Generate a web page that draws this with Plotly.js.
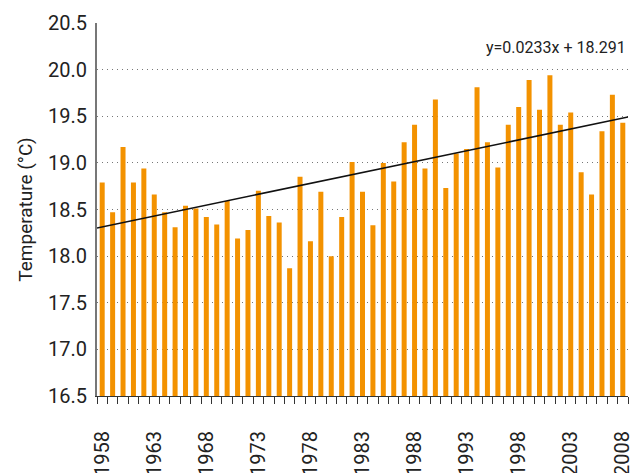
<!DOCTYPE html>
<html>
<head>
<meta charset="utf-8">
<script src="https://cdn.plot.ly/plotly-3.0.1.min.js"></script>
<style>html,body{margin:0;padding:0;background:#fff;}#chart{width:631px;height:473px;}</style>
</head>
<body>
<div id="chart"></div>
<script>
const years = [1958,1959,1960,1961,1962,1963,1964,1965,1966,1967,1968,1969,1970,1971,1972,1973,1974,1975,1976,1977,1978,1979,1980,1981,1982,1983,1984,1985,1986,1987,1988,1989,1990,1991,1992,1993,1994,1995,1996,1997,1998,1999,2000,2001,2002,2003,2004,2005,2006,2007,2008];
const temperatures = [18.79,18.47,19.17,18.79,18.94,18.66,18.47,18.31,18.54,18.51,18.42,18.34,18.59,18.19,18.28,18.70,18.43,18.36,17.87,18.85,18.16,18.69,18.00,18.42,19.01,18.69,18.33,19.00,18.80,19.22,19.41,18.94,19.68,18.73,19.10,19.15,19.81,19.22,18.95,19.41,19.60,19.89,19.57,19.94,19.41,19.54,18.90,18.66,19.34,19.73,19.43];
const tickYears = [1958,1963,1968,1973,1978,1983,1988,1993,1998,2003,2008];
const yTicks = [16.5,17.0,17.5,18.0,18.5,19.0,19.5,20.0,20.5];
const trendSlope = 0.0233;
const trendIntercept = 18.291;
const trendLabel = 'y=0.0233x + 18.291';

const firstYear = years[0];
const xLo = years[0] - 0.5, xHi = years[years.length-1] + 0.5;
const trendX = [xLo, xHi];
const trendY = trendX.map(x => trendSlope * (x - firstYear + 1) + trendIntercept);

const font = "'Liberation Sans Narrow', 'Roboto', sans-serif";

const data = [
  {type:'bar', x: years, y: temperatures, marker:{color:'#F39200'}, width:0.48, hoverinfo:'x+y'},
  {type:'scatter', mode:'lines', x: trendX, y: trendY, line:{color:'#111', width:1.5}, hoverinfo:'skip'}
];

const layout = {
  width:631, height:473,
  margin:{l:97, r:3, t:23, b:77},
  paper_bgcolor:'#fff', plot_bgcolor:'#fff',
  showlegend:false,
  font:{family:font, color:'#222'},
  xaxis:{
    type:'linear', range:[xLo, xHi],
    tickmode:'array', tickvals: tickYears, ticktext: tickYears.map(String),
    tickangle:-90, ticks:'', ticklabelstandoff:26, ticklabeloverflow:'allow',
    tickfont:{family:font, size:20, color:'#222'},
    showgrid:false, zeroline:false,
    showline:true, linecolor:'#333', linewidth:1,
    minor:{tick0: xLo, dtick:1, ticks:'outside', ticklen:7, tickcolor:'#333', tickwidth:1, showgrid:false}
  },
  yaxis:{
    range:[16.5, 20.5], tickmode:'array', tickvals:yTicks, ticktext:yTicks.map(v=>v.toFixed(1)),
    tickfont:{family:font, size:20, color:'#222'},
    ticks:'', ticklabelstandoff:4,
    showgrid:true, gridcolor:'#777', griddash:'1px,4px', gridwidth:1,
    zeroline:false, showline:true, linecolor:'#777', linewidth:2,
    title:{text:'Temperature (°C)', font:{family:font, size:19, color:'#222'}, standoff:10}
  },
  annotations:[{
    text: trendLabel, xref:'paper', yref:'paper', x:1, y:0.935, xanchor:'right', yanchor:'middle',
    showarrow:false, font:{family:font, size:16, color:'#222'}
  }]
};
Plotly.newPlot('chart', data, layout, {staticPlot:true});
</script>
</body>
</html>
